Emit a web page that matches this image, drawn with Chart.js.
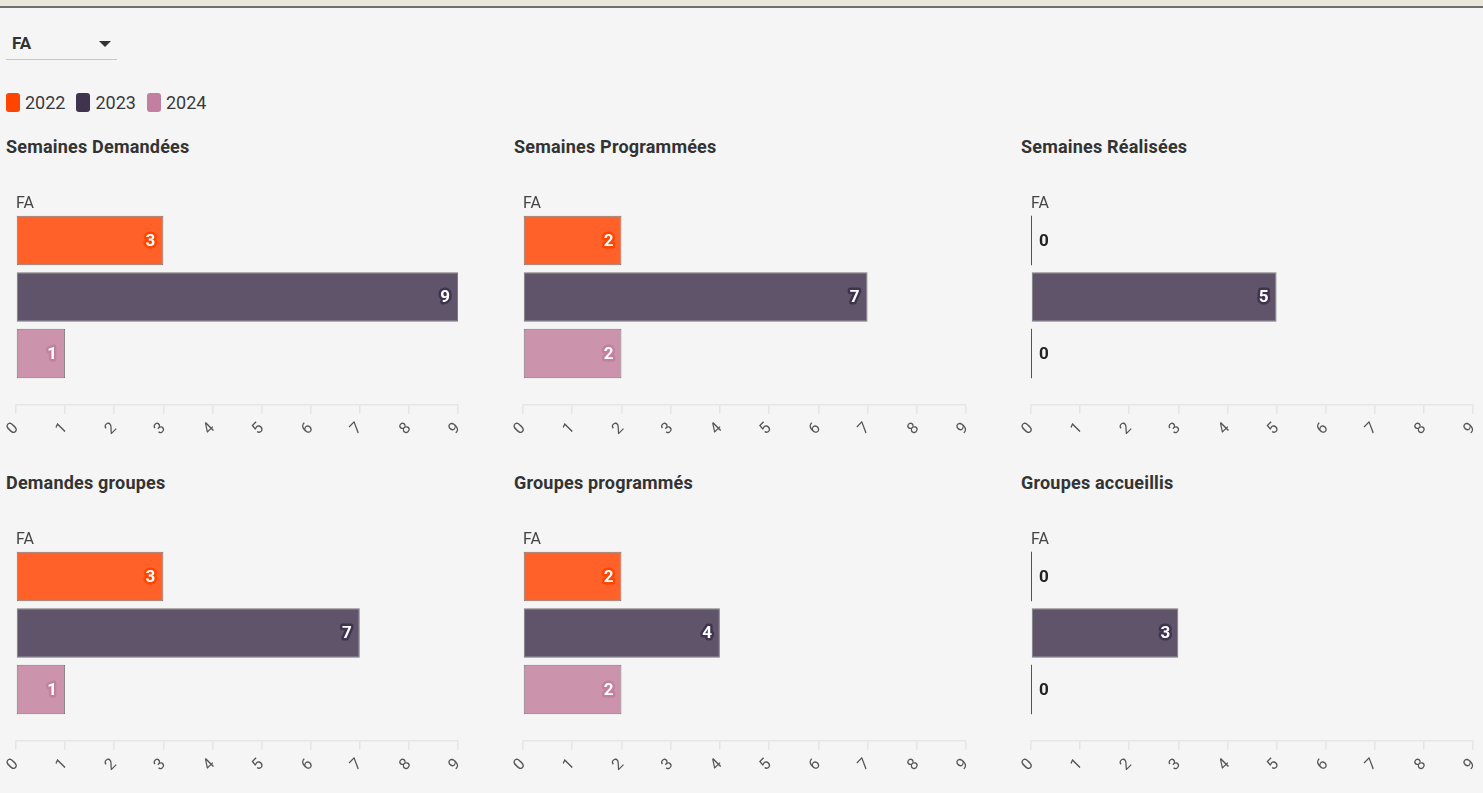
<!DOCTYPE html>
<html>
<head>
<meta charset="utf-8">
<script src="https://cdn.jsdelivr.net/npm/chart.js@4/dist/chart.umd.min.js"></script>
<style>
  html, body { margin: 0; padding: 0; }
  body {
    width: 1483px; height: 793px; overflow: hidden;
    background: #f5f5f5; position: relative;
    font-family: Roboto, "Noto Sans", sans-serif; color: #333;
  }
  #topbar { position: absolute; left: 0; top: 0; width: 1483px; height: 6px; background: #ebe6da; border-bottom: 2px solid #707070; }
  #select { position: absolute; left: 6px; top: 31px; width: 111px; height: 28px; border-bottom: 1px solid #c8c8c8; }
  #select span { position: absolute; left: 6px; top: 2px; font-weight: bold; font-size: 17px; color: #333; }
  #select i { position: absolute; left: 93px; top: 10px; width: 0; height: 0; border-left: 6px solid transparent; border-right: 6px solid transparent; border-top: 6px solid #333; }
  #legend { position: absolute; left: 6px; top: 92px; display: flex; font-size: 18px; color: #3a3a3a; }
  #legend div { display: flex; align-items: center; margin-right: 11px; }
  #legend b { display: inline-block; width: 14px; height: 19px; border-radius: 3px; margin-right: 5px; }
  .title { position: absolute; font-weight: bold; font-size: 18px; color: #333; letter-spacing: 0.2px; }
  canvas { position: absolute; }
</style>
</head>
<body>
<div id="topbar"></div>
<div id="select"><span>FA</span><i></i></div>
<div id="legend"></div>

<script>
// -------------------------
// DATA
// -------------------------
const years = ["2022", "2023", "2024"];
const categories = ["FA"];
const titles = [
  "Semaines Demandées", "Semaines Programmées", "Semaines Réalisées",
  "Demandes groupes", "Groupes programmés", "Groupes accueillis"
];
const values2022 = [3, 2, 0, 3, 2, 0];
const values2023 = [9, 7, 5, 7, 4, 3];
const values2024 = [1, 2, 0, 1, 2, 0];
const axisMax = 9;

// -------------------------
// STYLE
// -------------------------
const baseColors = ["#ff4500", "#3f3350", "#c27f9f"];
const barColors = ["#ff6129", "#5f546a", "#cc93ad"];

const colLeft = [0, 507, 1015];
const colWidth = [480, 481, 468];
const colPadRight = [22, 22, 10];
const titleX = [6, 514, 1021];
const rowTop = [185, 521];
const titleY = [136, 472];

// -------------------------
// LEGEND
// -------------------------
document.getElementById("legend").innerHTML = years.map((y, i) =>
  `<div><b style="background:${baseColors[i]}"></b>${y}</div>`
).join("");

// -------------------------
// LABEL PLUGIN
// -------------------------
const barLabels = {
  id: "barLabels",
  afterDatasetsDraw(chart) {
    const ctx = chart.ctx;
    ctx.save();

    // category label above first bar
    const first = chart.getDatasetMeta(0).data[0];
    ctx.font = "16px Roboto";
    ctx.fillStyle = "#444";
    ctx.textAlign = "left";
    ctx.textBaseline = "bottom";
    ctx.fillText(chart.data.labels[0], chart.chartArea.left, first.y - first.height / 2 - 4);

    chart.data.datasets.forEach((ds, di) => {
      const meta = chart.getDatasetMeta(di);
      meta.data.forEach((bar, i) => {
        const v = ds.data[i];
        const h = bar.height;
        ctx.font = "bold 17px Roboto";
        ctx.textBaseline = "middle";
        if (v === 0) {
          ctx.strokeStyle = "#555";
          ctx.lineWidth = 1;
          ctx.beginPath();
          ctx.moveTo(bar.base + 0.5, bar.y - h / 2);
          ctx.lineTo(bar.base + 0.5, bar.y + h / 2);
          ctx.stroke();
          ctx.fillStyle = "#222";
          ctx.textAlign = "left";
          ctx.fillText(String(v), bar.x + 8, bar.y + 1);
        } else {
          ctx.textAlign = "right";
          ctx.lineJoin = "round";
          ctx.lineWidth = 5;
          ctx.strokeStyle = baseColors[di];
          ctx.strokeText(String(v), bar.x - 8, bar.y + 1);
          ctx.fillStyle = "#fff";
          ctx.fillText(String(v), bar.x - 8, bar.y + 1);
        }
      });
    });
    ctx.restore();
  }
};

// -------------------------
// CHARTS
// -------------------------
function makeChart(k) {
  const col = k % 3;
  const row = Math.floor(k / 3);

  const t = document.createElement("div");
  t.className = "title";
  t.style.left = titleX[col] + "px";
  t.style.top = titleY[row] + "px";
  t.textContent = titles[k];
  document.body.appendChild(t);

  const c = document.createElement("canvas");
  c.style.left = colLeft[col] + "px";
  c.style.top = rowTop[row] + "px";
  c.style.width = colWidth[col] + "px";
  c.style.height = "265px";
  c.width = colWidth[col];
  c.height = 265;
  document.body.appendChild(c);

  const series = [values2022, values2023, values2024];

  new Chart(c.getContext("2d"), {
    type: "bar",
    data: {
      labels: categories,
      datasets: years.map((y, i) => ({
        label: y,
        data: [series[i][k]],
        backgroundColor: barColors[i],
        borderColor: "#7a7a7a",
        borderWidth: 1,
        borderSkipped: false,
        categoryPercentage: 0.785,
        barPercentage: 0.876
      }))
    },
    options: {
      indexAxis: "y",
      responsive: false,
      animation: false,
      layout: { padding: { left: 16, right: colPadRight[col], top: 4, bottom: 0 } },
      plugins: { legend: { display: false }, tooltip: { enabled: false } },
      scales: {
        y: { display: false },
        x: {
          min: 0,
          max: axisMax,
          ticks: {
            stepSize: 1,
            minRotation: 45,
            maxRotation: 45,
            color: "#555",
            font: { family: "Roboto", size: 16, weight: "normal" },
            padding: 5
          },
          grid: { drawOnChartArea: false, color: "#e6e6e6", tickLength: 9, lineWidth: 1.5 },
          border: { display: true, color: "#e6e6e6", width: 1.5 },
          afterFit(scale) {
            scale.height = 45;
            scale.paddingLeft = 0;
            scale.paddingRight = 0;
          }
        }
      }
    },
    plugins: [barLabels]
  });
}

for (let k = 0; k < titles.length; k++) makeChart(k);
</script>
</body>
</html>
